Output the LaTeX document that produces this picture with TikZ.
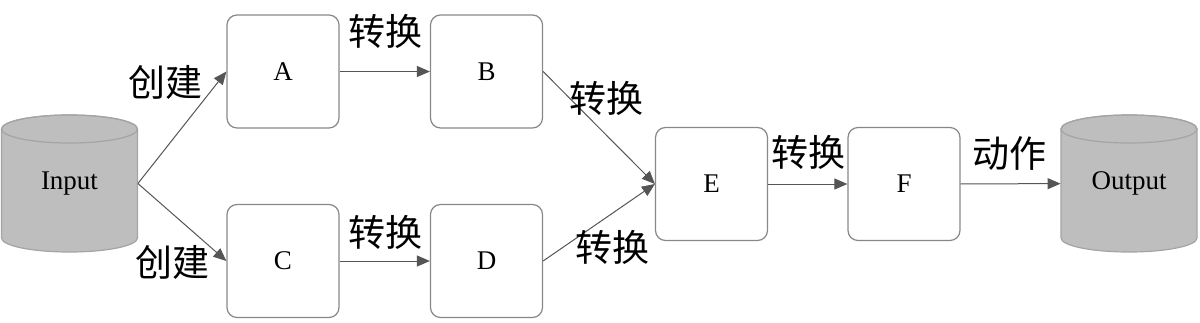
\documentclass[tikz,border=0pt]{standalone}
\usepackage{fontspec}
\setmainfont{Liberation Serif}
\newfontfamily\cjk{Noto Sans CJK SC}
\usetikzlibrary{arrows.meta}
\definecolor{boxgray}{HTML}{888888}
\definecolor{cylfill}{HTML}{BEBEBE}
\definecolor{cylborder}{HTML}{A4A4A4}
\definecolor{linegray}{HTML}{555555}
\tikzset{
  dbcyl/.pic={
    \path[fill=cylfill, draw=cylborder, line width=0.6pt]
      (-34pt,27.25pt) -- (-34pt,-27.25pt)
      arc[start angle=180,end angle=360,x radius=34pt,y radius=7pt]
      -- (34pt,27.25pt)
      arc[start angle=0,end angle=180,x radius=34pt,y radius=7pt] -- cycle;
    \draw[cylborder, line width=0.6pt] (0,27.25pt) ellipse[x radius=34pt,y radius=7pt];
  }
}
\begin{document}
\begin{tikzpicture}[x=0.5pt,y=-0.5pt,
  box/.style={draw=boxgray, line width=0.6pt, rounded corners=5pt, minimum width=56pt, minimum height=56.5pt, inner sep=0pt, font=\fontsize{13.5}{15}\selectfont},
  db/.style={minimum width=68pt, minimum height=68.5pt, inner sep=0pt, font=\fontsize{13.5}{15}\selectfont},
  conn/.style={draw=linegray, line width=0.5pt, -{Triangle[length=6.5pt,width=5.5pt]}},
  lbl/.style={font=\cjk\fontsize{18.5}{20}\selectfont, inner sep=0pt}]
\useasboundingbox (0,0) rectangle (1200,322);
\pic at (69.5,183.5) {dbcyl};
\pic at (1129,183.5) {dbcyl};
\node[db] (in) at (69.5,183.5) {Input};
\node[box] (A) at (283,71.5) {A};
\node[box] (B) at (486.5,71.5) {B};
\node[box] (C) at (283,261) {C};
\node[box] (D) at (486.5,261) {D};
\node[box] (E) at (711.5,184) {E};
\node[box] (F) at (904,184) {F};
\node[db] (out) at (1129,183.5) {Output};
\draw[conn] (in.east) -- (A.west);
\draw[conn] (in.east) -- (C.west);
\draw[conn] (A) -- (B);
\draw[conn] (C) -- (D);
\draw[conn] (B.east) -- (E.west);
\draw[conn] (D.east) -- (E.west);
\draw[conn] (E) -- (F);
\draw[conn] (F) -- (out);
\node[lbl] (l1) at (165,82) {创建};
\node[lbl] (l2) at (172,262) {创建};
\node[lbl] (l3) at (385,31) {转换};
\node[lbl] (l4) at (385,232) {转换};
\node[lbl] (l5) at (606,98) {转换};
\node[lbl] (l6) at (612,247) {转换};
\node[lbl] (l7) at (808,152) {转换};
\node[lbl] (l8) at (1009,153) {动作};
\end{tikzpicture}
\end{document}
